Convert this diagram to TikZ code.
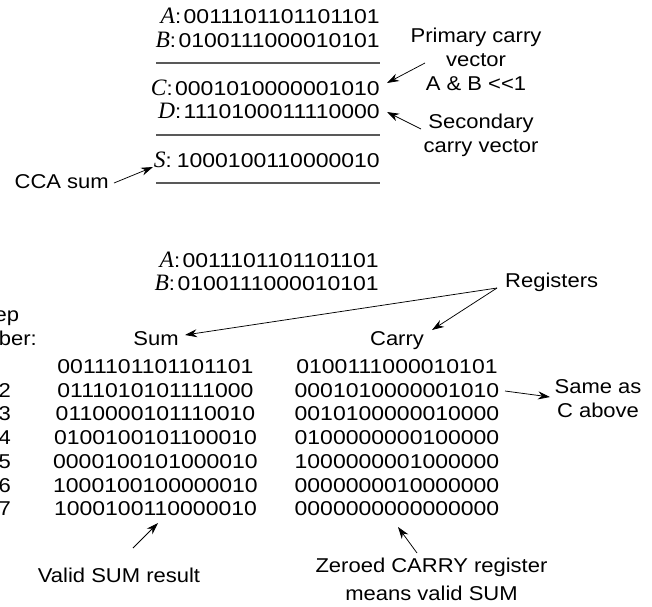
\documentclass[tikz,border=0pt]{standalone}
\usepackage{fontspec}
\setmainfont{Liberation Sans}[FakeStretch=1.1]
\newfontfamily\digitfont{Liberation Sans}[FakeStretch=1.15]
\newfontfamily\varserif{Liberation Serif}
\newcommand\varlet[1]{{\varserif\itshape\fontsize{23.5}{24}\selectfont #1}}
\newcommand\bits[1]{{\digitfont #1}}
\usetikzlibrary{arrows.meta}
\tikzset{
  every node/.style={inner sep=0pt, font=\fontsize{20}{24}\selectfont},
  rulestyle/.style={draw=black!65, line width=1.1pt},
  pointer/.style={draw=black, line width=0.75pt, -{Stealth[length=12pt,width=8pt]}},
}
\begin{document}
\begin{tikzpicture}[x=1pt,y=-1pt]
\useasboundingbox (0,0) rectangle (652,606);
\clip (0,0) rectangle (652,606);
% ---------- top block ----------
\node[anchor=base east] (A1) at (380,23)   {\varlet{A}:\hspace{2.5pt}\bits{0011101101101101}};
\node[anchor=base east] (B1) at (380,47.5) {\varlet{B}:\hspace{2.5pt}\bits{0100111000010101}};
\draw[rulestyle] (156,63) -- (380,63);
\node[anchor=base east] (C1) at (380,95)   {\varlet{C}:\hspace{2.5pt}\bits{0001010000001010}};
\node[anchor=base east] (D1) at (380,118.5){\varlet{D}:\hspace{2.5pt}\bits{1110100011110000}};
\draw[rulestyle] (156,135) -- (380,135);
\node[anchor=base east] (S1) at (380,167)  {\varlet{S}:\hspace{5pt}\bits{1000100110000010}};
\draw[rulestyle] (156,183) -- (380,183);

\node[anchor=base] (pc1) at (476,42) {Primary carry};
\node[anchor=base] (pc2) at (476,66) {vector};
\node[anchor=base] (pc3) at (476,90) {A \& B <{}<1};
\node[anchor=base] (sc1) at (481,128) {Secondary};
\node[anchor=base] (sc2) at (481,152) {carry vector};
\node[anchor=base west] (cca) at (14.5,188) {CCA sum};

\coordinate (pcTail) at (425,63);  \coordinate (pcTip) at (387,83);
\coordinate (scTail) at (421,129); \coordinate (scTip) at (387,112);
\coordinate (ccaTail) at (114,183); \coordinate (ccaTip) at (153,167);
\draw[pointer] (pcTail) -- (pcTip);
\draw[pointer] (scTail) -- (scTip);
\draw[pointer] (ccaTail) -- (ccaTip);

% ---------- bottom block ----------
\node[anchor=base east] (A2) at (379,267) {\varlet{A}:\hspace{2.5pt}\bits{0011101101101101}};
\node[anchor=base east] (B2) at (379,290) {\varlet{B}:\hspace{2.5pt}\bits{0100111000010101}};
\node[anchor=base west] (reg) at (505,287) {Registers};
\node[anchor=base] (step1) at (-3.5,321) {Step};
\node[anchor=base] (step2) at (-3.5,345.5) {number:};
\node[anchor=base] (sumh) at (156,345.5) {Sum};
\node[anchor=base] (carh) at (397,345.5) {Carry};

\coordinate (regTail) at (497,288);
\coordinate (sumTip) at (185,335);
\coordinate (carTip) at (432,330);
\draw[pointer] (regTail) -- (sumTip);
\draw[pointer] (regTail) -- (carTip);

\foreach \n/\s/\c [count=\i from 0] in {
  /0011101101101101/0100111000010101,
  2/0111010101111000/0001010000001010,
  3/0110000101110010/0010100000010000,
  4/0100100101100010/0100000000100000,
  5/0000100101000010/1000000001000000,
  6/1000100100000010/0000000010000000,
  7/1000100110000010/0000000000000000}{
  \node[anchor=base east] (n\i) at (11,373.5+23.7*\i) {\n};
  \node[anchor=base] (s\i) at (155.5,373.5+23.7*\i) {\bits{\s}};
  \node[anchor=base] (c\i) at (397,373.5+23.7*\i) {\bits{\c}};
}

\node[anchor=base] (same1) at (598,393) {Same as};
\node[anchor=base] (same2) at (598,417) {C above};
\coordinate (sameTail) at (505,391); \coordinate (sameTip) at (550,397);
\draw[pointer] (sameTail) -- (sameTip);

\node[anchor=base] (valid) at (119,582) {Valid SUM result};
\coordinate (validTail) at (133,548); \coordinate (validTip) at (158,523);
\draw[pointer] (validTail) -- (validTip);

\node[anchor=base] (zer1) at (431.5,572) {Zeroed CARRY register};
\node[anchor=base] (zer2) at (431.5,600) {means valid SUM};
\coordinate (zerTail) at (417,553); \coordinate (zerTip) at (398,527);
\draw[pointer] (zerTail) -- (zerTip);
\end{tikzpicture}
\end{document}
